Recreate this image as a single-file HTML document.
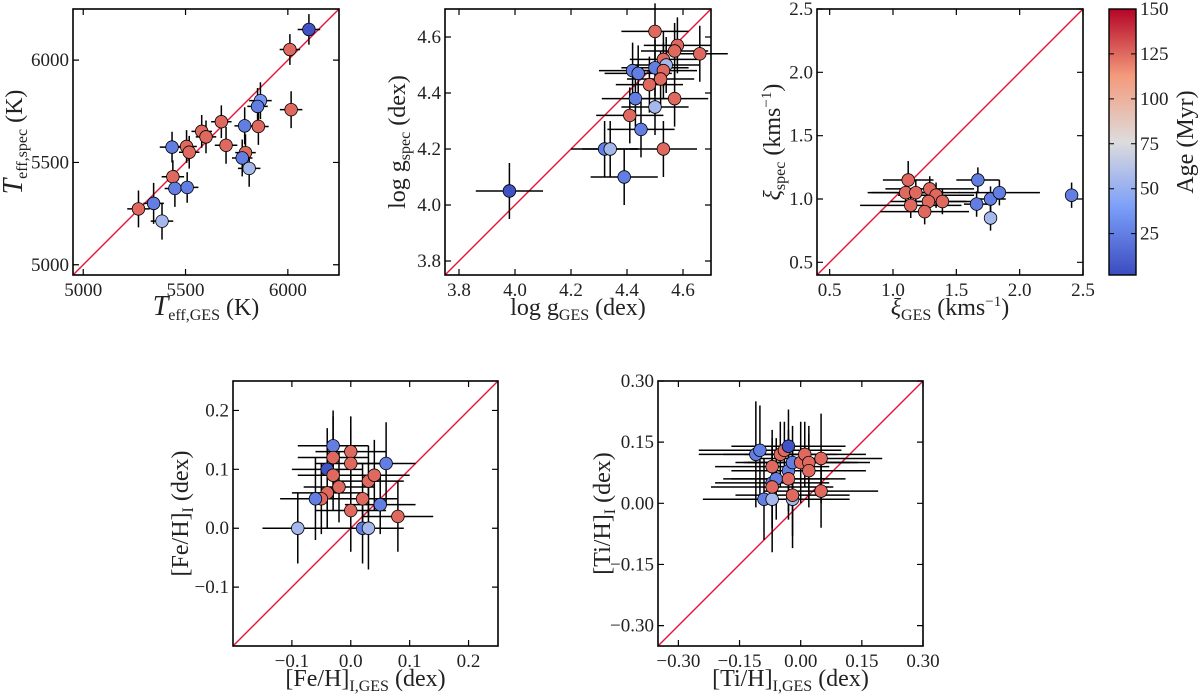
<!DOCTYPE html>
<html><head><meta charset="utf-8"><style>
body{margin:0;background:#fff}
svg{display:block;font-family:"Liberation Serif",serif}
</style></head><body>
<svg id="fig" width="1200" height="699" viewBox="0 0 1200 699"></svg>
<script>
// ---- Panel 1: Teff ----
const p1x=[6103,6010,6016,5866,5852,5856,5789,5675,5698,5793,5777,5811,5579,5600,5505,5434,5518,5438,5448,5508,5344,5270,5385];
const p1y=[6150,6052,5758,5802,5774,5676,5679,5699,5584,5548,5522,5471,5652,5625,5578,5575,5550,5430,5373,5378,5300,5273,5213];
const p1xe=[55,50,55,55,50,50,50,50,55,50,50,55,50,50,50,60,50,55,50,55,50,55,55];
const p1ye=[75,75,90,90,90,90,90,80,90,90,90,90,80,80,80,75,80,80,90,75,100,90,90];
const p1age=[5,125,125,35,25,125,25,125,125,125,25,55,125,125,125,25,125,125,25,25,25,125,55];
// ---- Panel 2: logg ----
const p2x=[3.98,4.50,4.58,4.57,4.66,4.53,4.54,4.50,4.53,4.42,4.44,4.52,4.48,4.43,4.57,4.50,4.41,4.45,4.32,4.34,4.53,4.39];
const p2y=[4.05,4.62,4.57,4.55,4.54,4.52,4.50,4.49,4.48,4.48,4.47,4.45,4.43,4.38,4.38,4.35,4.32,4.27,4.20,4.20,4.20,4.10];
const p2xe=[0.12,0.12,0.12,0.12,0.1,0.12,0.12,0.12,0.12,0.12,0.12,0.12,0.12,0.12,0.12,0.12,0.12,0.12,0.12,0.1,0.12,0.12];
const p2ye=[0.1,0.1,0.1,0.1,0.1,0.1,0.1,0.1,0.1,0.1,0.1,0.1,0.1,0.1,0.1,0.1,0.1,0.1,0.1,0.1,0.1,0.1];
const p2age=[5,125,125,125,125,125,55,25,125,25,25,125,125,25,125,55,125,25,25,55,125,25];
// ---- Panel 3: microturbulence ----
const p3x=[1.12,1.10,1.18,1.29,1.34,1.14,1.28,1.39,1.25,1.67,1.66,1.77,1.84,1.77,2.41];
const p3y=[1.15,1.05,1.05,1.08,1.03,0.95,0.98,0.98,0.90,1.15,0.96,1.00,1.05,0.85,1.03];
const p3xe=[0.2,0.3,0.35,0.35,0.3,0.4,0.3,0.25,0.35,0.17,0.1,0.12,0.32,0.05,0.0];
const p3ye=[0.15,0.1,0.1,0.1,0.1,0.1,0.1,0.1,0.1,0.1,0.1,0.1,0.1,0.1,0.1];
const p3age=[125,125,125,125,125,125,125,125,125,25,25,25,25,55,25];
// ---- Panel 4: Fe/H ----
const p4x=[-0.09,-0.03,-0.03,-0.04,-0.03,-0.02,-0.04,-0.05,-0.06,0.00,0.00,0.00,0.02,0.03,0.04,0.06,0.05,0.08,0.02,0.03];
const p4y=[0.00,0.14,0.12,0.10,0.09,0.07,0.06,0.05,0.05,0.13,0.11,0.03,0.05,0.08,0.09,0.11,0.04,0.02,0.00,0.00];
const p4xe=[0.06,0.06,0.06,0.06,0.06,0.06,0.06,0.06,0.06,0.06,0.06,0.06,0.06,0.06,0.06,0.05,0.06,0.06,0.06,0.06];
const p4ye=[0.06,0.06,0.07,0.07,0.06,0.06,0.06,0.06,0.07,0.06,0.06,0.07,0.06,0.06,0.06,0.07,0.05,0.06,0.06,0.07];
const p4age=[55,25,125,5,125,125,125,125,25,125,125,125,125,125,125,25,25,125,25,55];
// ---- Panel 5: Ti/H ----
const p5x=[-0.11,-0.10,-0.09,-0.07,-0.07,-0.07,-0.06,-0.07,-0.05,-0.04,-0.03,-0.03,-0.03,-0.02,-0.02,-0.02,0.00,0.01,0.02,0.02,0.05,0.05];
const p5y=[0.12,0.13,0.01,0.01,0.09,0.05,0.06,0.04,0.12,0.13,0.14,0.08,0.06,0.10,0.01,0.02,0.10,0.12,0.10,0.08,0.11,0.03];
const p5xe=[0.14,0.15,0.15,0.15,0.14,0.14,0.13,0.15,0.14,0.14,0.14,0.14,0.14,0.14,0.14,0.14,0.14,0.15,0.15,0.14,0.15,0.14];
const p5ye=[0.13,0.11,0.10,0.13,0.09,0.11,0.10,0.10,0.08,0.07,0.09,0.10,0.10,0.09,0.12,0.10,0.10,0.08,0.09,0.09,0.11,0.09];
const p5age=[25,25,25,55,125,25,25,125,125,125,5,25,125,25,55,125,125,125,125,125,125,125];

const NS='http://www.w3.org/2000/svg';
const svg=document.getElementById('fig');
function mk(tag,attrs,parent){const e=document.createElementNS(NS,tag);for(const k in attrs)e.setAttribute(k,attrs[k]);(parent||svg).appendChild(e);return e;}
const cmapStops=[[0,[59,76,192]],[0.25,[122,157,248]],[0.5,[221,220,221]],[0.75,[244,154,123]],[1,[180,4,38]]];
function cmap(t){t=Math.max(0,Math.min(1,t));for(let i=1;i<cmapStops.length;i++){if(t<=cmapStops[i][0]){const a=cmapStops[i-1],b=cmapStops[i];const f=(t-a[0])/(b[0]-a[0]);return 'rgb('+a[1].map((v,j)=>Math.round(v+(b[1][j]-v)*f)).join(',')+')';}}return 'rgb(180,4,38)';}
const AMIN=2,AMAX=150;
function ageColor(a){return cmap((a-AMIN)/(AMAX-AMIN));}

function panel(cfg){
  const g=mk('g',{});
  
  
  const {x0,y0,w,h,xlim,ylim}=cfg;
  const sx=v=>x0+(v-xlim[0])/(xlim[1]-xlim[0])*w;
  const sy=v=>y0+h-(v-ylim[0])/(ylim[1]-ylim[0])*h;
  const lo=Math.max(xlim[0],ylim[0]),hi=Math.min(xlim[1],ylim[1]);
  const d=mk('line',{x1:sx(lo),y1:sy(lo),x2:sx(hi),y2:sy(hi),stroke:'#e8123c','stroke-width':1.4},g);
  
  
  for(let i=0;i<cfg.xs.length;i++){
    const cx=sx(cfg.xs[i]),cy=sy(cfg.ys[i]);
    const eb=mk('path',{d:`M${sx(cfg.xs[i]-cfg.xe[i])},${cy}H${sx(cfg.xs[i]+cfg.xe[i])}M${cx},${sy(cfg.ys[i]-cfg.ye[i])}V${sy(cfg.ys[i]+cfg.ye[i])}`,stroke:'#000','stroke-width':1.5,fill:'none'},g);
    
    
  }
  for(let i=0;i<cfg.xs.length;i++){
    const c=mk('circle',{cx:sx(cfg.xs[i]),cy:sy(cfg.ys[i]),r:6.3,fill:ageColor(cfg.age[i]),stroke:'#000','stroke-width':0.8},g);
    
    
  }
  const fr=mk('rect',{x:x0,y:y0,width:w,height:h,fill:'none',stroke:'#000','stroke-width':1.6},g);
  
  
  cfg.xt.forEach((t,i)=>{const X=sx(t);
    mk('path',{d:`M${X},${y0+h}v-6M${X},${y0}v6`,stroke:'#000','stroke-width':1.2},g);
    const tx=mk('text',{x:X,y:y0+h+21,'text-anchor':'middle','font-size':19,fill:'#222'},g);tx.textContent=cfg.xtl[i];
    
    });
  cfg.yt.forEach((t,i)=>{const Y=sy(t);
    mk('path',{d:`M${x0},${Y}h6M${x0+w},${Y}h-6`,stroke:'#000','stroke-width':1.2},g);
    const ty=mk('text',{x:x0-4,y:Y+6,'text-anchor':'end','font-size':19,fill:'#222'},g);ty.textContent=cfg.ytl[i];
    
    });
  const xl=mk('text',{x:x0+w/2,y:y0+h+40,'text-anchor':'middle','font-size':24,fill:'#222'},g);xl.innerHTML=cfg.xlabel;
  
  
  const yl=mk('text',{x:0,y:0,'text-anchor':'middle','font-size':24,fill:'#222',transform:`translate(${cfg.ylx},${y0+h/2}) rotate(-90)`},g);yl.innerHTML=cfg.ylabel;
  
  
}
const sub=(s)=>`<tspan font-size="16" dy="5">${s}</tspan><tspan dy="-5"> </tspan>`;
panel({name:'teff-panel',x0:73,y0:9,w:266,h:266,xlim:[4950,6250],ylim:[4950,6250],xs:p1x,ys:p1y,xe:p1xe,ye:p1ye,age:p1age,
  xt:[5000,5500,6000],xtl:['5000','5500','6000'],yt:[5000,5500,6000],ytl:['5000','5500','6000'],
  xlabel:'<tspan font-style="italic" font-size="28">T</tspan>'+sub('eff,GES')+'(K)',ylabel:'<tspan font-style="italic" font-size="28">T</tspan>'+sub('eff,spec')+'(K)',ylx:22});
panel({name:'logg-panel',x0:445,y0:9,w:266,h:266,xlim:[3.75,4.70],ylim:[3.75,4.70],xs:p2x,ys:p2y,xe:p2xe,ye:p2ye,age:p2age,
  xt:[3.8,4.0,4.2,4.4,4.6],xtl:['3.8','4.0','4.2','4.4','4.6'],yt:[3.8,4.0,4.2,4.4,4.6],ytl:['3.8','4.0','4.2','4.4','4.6'],
  xlabel:'log g'+sub('GES')+'(dex)',ylabel:'log g'+sub('spec')+'(dex)',ylx:405});
panel({name:'xi-panel',x0:817,y0:9,w:266,h:266,xlim:[0.4,2.5],ylim:[0.4,2.5],xs:p3x,ys:p3y,xe:p3xe,ye:p3ye,age:p3age,
  xt:[0.5,1.0,1.5,2.0,2.5],xtl:['0.5','1.0','1.5','2.0','2.5'],yt:[0.5,1.0,1.5,2.0,2.5],ytl:['0.5','1.0','1.5','2.0','2.5'],
  xlabel:'<tspan font-style="italic">ξ</tspan>'+sub('GES')+'(kms<tspan font-size="15" dy="-9">−1</tspan><tspan dy="9">)</tspan>',ylabel:'<tspan font-style="italic">ξ</tspan>'+sub('spec')+'(kms<tspan font-size="15" dy="-9">−1</tspan><tspan dy="9">)</tspan>',ylx:780});
panel({name:'feh-panel',x0:233,y0:381,w:265,h:265,xlim:[-0.2,0.25],ylim:[-0.2,0.25],xs:p4x,ys:p4y,xe:p4xe,ye:p4ye,age:p4age,
  xt:[-0.1,0,0.1,0.2],xtl:['−0.1','0.0','0.1','0.2'],yt:[-0.1,0,0.1,0.2],ytl:['−0.1','0.0','0.1','0.2'],
  xlabel:'[Fe/H]'+sub('I,GES')+'(dex)',ylabel:'[Fe/H]'+sub('I')+'(dex)',ylx:188});
panel({name:'tih-panel',x0:658,y0:381,w:265,h:265,xlim:[-0.35,0.30],ylim:[-0.35,0.30],xs:p5x,ys:p5y,xe:p5xe,ye:p5ye,age:p5age,
  xt:[-0.3,-0.15,0,0.15,0.3],xtl:['−0.30','−0.15','0.00','0.15','0.30'],yt:[-0.3,-0.15,0,0.15,0.3],ytl:['−0.30','−0.15','0.00','0.15','0.30'],
  xlabel:'[Ti/H]'+sub('I,GES')+'(dex)',ylabel:'[Ti/H]'+sub('I')+'(dex)',ylx:610});
const cbTicks=[25,50,75,100,125,150];
const cb=mk('g',{});


const defs=mk('defs',{},cb);const lg=mk('linearGradient',{id:'cbg',x1:0,y1:1,x2:0,y2:0},defs);
for(let i=0;i<=20;i++)mk('stop',{offset:i/20,'stop-color':cmap(i/20)},lg);
const cbx=1109,cby=9,cbw=27,cbh=266;
mk('rect',{x:cbx,y:cby,width:cbw,height:cbh,fill:'url(#cbg)',stroke:'#000','stroke-width':1.4},cb);
cbTicks.forEach(t=>{const Y=cby+cbh-(t-AMIN)/(AMAX-AMIN)*cbh;
  mk('path',{d:`M${cbx+cbw},${Y}h-5M${cbx},${Y}h5`,stroke:'#000','stroke-width':1},cb);
  const tt=mk('text',{x:cbx+cbw+4,y:Y+6,'font-size':19,fill:'#222'},cb);tt.textContent=t;
  
  });
const cl=mk('text',{x:0,y:0,'text-anchor':'middle','font-size':24,fill:'#222',transform:`translate(1193,${cby+cbh/2}) rotate(-90)`},cb);cl.textContent='Age (Myr)';


</script>
</body></html>
